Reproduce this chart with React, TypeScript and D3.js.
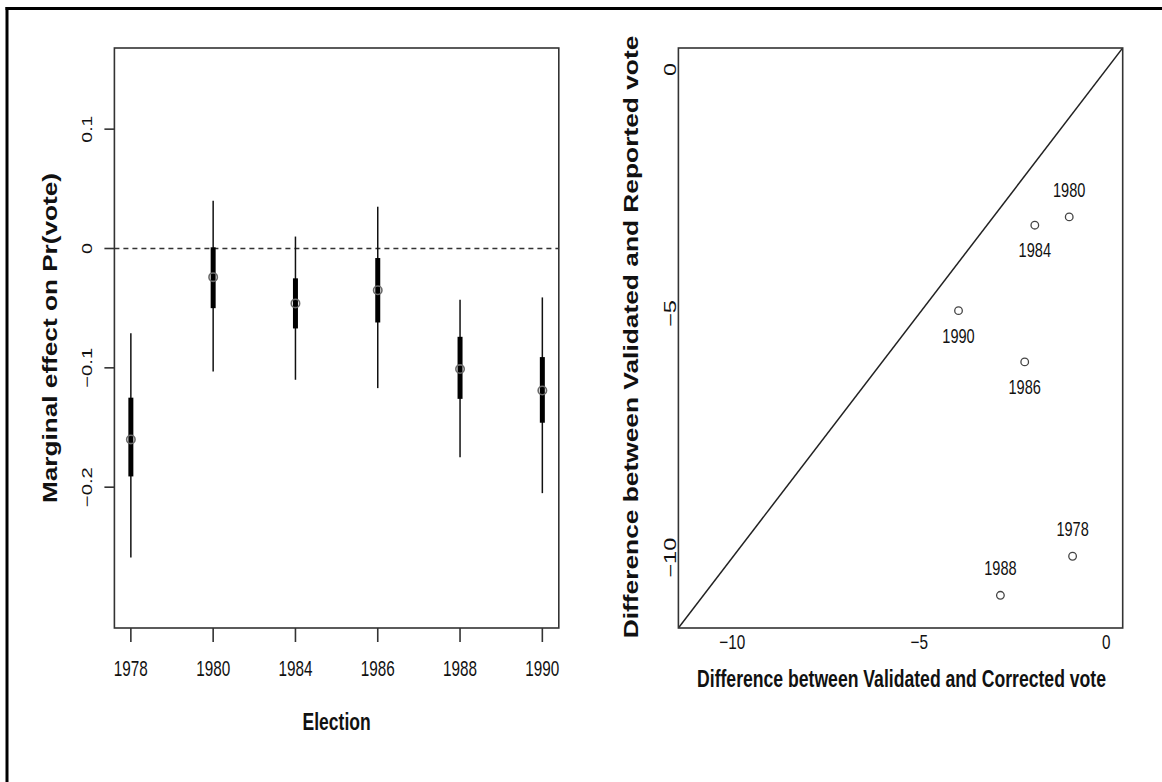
import React, { useLayoutEffect, useRef, useState } from "react";
import * as d3 from "d3";

// Left panel: marginal effect of the treatment on Pr(vote), by election
const elections = ["1978", "1980", "1984", "1986", "1988", "1990"];
const estimate = [-0.16, -0.024, -0.046, -0.035, -0.101, -0.119];
const innerLow = [-0.191, -0.05, -0.067, -0.062, -0.126, -0.146];
const innerHigh = [-0.125, 0.001, -0.025, -0.008, -0.074, -0.091];
const outerLow = [-0.259, -0.103, -0.11, -0.117, -0.175, -0.205];
const outerHigh = [-0.071, 0.04, 0.01, 0.035, -0.043, -0.041];
const effectTicks = [0.1, 0, -0.1, -0.2];
const effectLimits = [-0.3, 0.15];

// Right panel: validated vs corrected and reported turnout differences
const pointYears = ["1978", "1980", "1984", "1986", "1988", "1990"];
const correctedDiff = [-0.9, -0.99, -1.91, -2.18, -2.83, -3.95];
const reportedDiff = [-9.97, -3.02, -3.19, -5.99, -10.77, -4.94];
const diffTicks = [-10, -5, 0];
const diffLimits = [-11, 0];

const W = 1162;
const H = 782;
const FONT = "'Liberation Sans', Arial, Helvetica, sans-serif";
const INK = "#111";
const FRAME = "#333";

// R-style 4% axis extension
const extend = ([a, b]: number[]) => {
  const d = (b - a) * 0.04;
  return [a - d, b + d];
};

const fmt = (v: number) => (v < 0 ? "\u2212" : "") + String(Math.abs(v));

// approximate rendered widths of the condensed tick label glyphs
const widthOf = (s: string, digit: number, minus: number, dot: number) =>
  Array.from(s).reduce(
    (acc, ch) => acc + (ch === "\u2212" ? minus : ch === "." ? dot : digit),
    0
  );

// Text squeezed along its reading direction to a target length
function FitText(props: {
  x: number;
  y: number;
  size: number;
  len: number;
  bold?: boolean;
  vertical?: boolean;
  children: string;
}) {
  const { x, y, size, len, bold, vertical, children } = props;
  const ref = useRef<SVGTextElement>(null);
  const [k, setK] = useState(len / (children.length * size * 0.55));
  useLayoutEffect(() => {
    if (ref.current) {
      const natural = ref.current.getComputedTextLength();
      if (natural > 0) setK(len / natural);
    }
  }, [len, size, children]);
  const rot = vertical ? " rotate(-90)" : "";
  return (
    <g transform={`translate(${x},${y})${rot} scale(${k},1)`}>
      <text
        ref={ref}
        x={0}
        y={0}
        fontSize={size}
        fontFamily={FONT}
        fontWeight={bold ? "bold" : "normal"}
        textAnchor="middle"
        fill={INK}
      >
        {children}
      </text>
    </g>
  );
}

function EffectPanel() {
  const left = 114.4;
  const right = 558.8;
  const top = 48;
  const bottom = 628;
  const x = d3
    .scaleLinear()
    .domain(extend([1, elections.length]))
    .range([left, right]);
  const y = d3.scaleLinear().domain(extend(effectLimits)).range([bottom, top]);
  const cx = (i: number) => x(i + 1);

  return (
    <g>
      {/* reference line at zero */}
      <line
        x1={left}
        x2={right}
        y1={y(0)}
        y2={y(0)}
        stroke="#333"
        strokeWidth={1.6}
        strokeDasharray="5,4"
      />
      {elections.map((e, i) => (
        <g key={e}>
          <line
            x1={cx(i)}
            x2={cx(i)}
            y1={y(outerLow[i])}
            y2={y(outerHigh[i])}
            stroke="#111"
            strokeWidth={1.5}
          />
          <line
            x1={cx(i)}
            x2={cx(i)}
            y1={y(innerLow[i])}
            y2={y(innerHigh[i])}
            stroke="#000"
            strokeWidth={5}
          />
          <circle
            cx={cx(i)}
            cy={y(estimate[i])}
            r={4.2}
            fill="none"
            stroke="#6a6a6a"
            strokeWidth={1.6}
          />
        </g>
      ))}
      <rect
        x={left}
        y={top}
        width={right - left}
        height={bottom - top}
        fill="none"
        stroke={FRAME}
        strokeWidth={1.6}
      />
      {/* x axis */}
      {elections.map((e, i) => (
        <g key={"xt" + e}>
          <line
            x1={cx(i)}
            x2={cx(i)}
            y1={bottom}
            y2={bottom + 14}
            stroke={FRAME}
            strokeWidth={1.6}
          />
          <FitText x={cx(i)} y={676} size={22} len={widthOf(e, 8.5, 9, 4)}>
            {e}
          </FitText>
        </g>
      ))}
      {/* y axis */}
      {effectTicks.map((t) => (
        <g key={"yt" + t}>
          <line
            x1={left - 10}
            x2={left}
            y1={y(t)}
            y2={y(t)}
            stroke={FRAME}
            strokeWidth={1.6}
          />
          <FitText
            vertical
            x={92}
            y={y(t)}
            size={15}
            len={widthOf(fmt(t), 11, 13, 5)}
          >
            {fmt(t)}
          </FitText>
        </g>
      ))}
      <FitText x={(left + right) / 2} y={730} size={23} len={68} bold>
        Election
      </FitText>
      <FitText vertical x={57} y={338} size={19.5} len={330} bold>
        Marginal effect on Pr(vote)
      </FitText>
    </g>
  );
}

function ScatterPanel() {
  const left = 678.4;
  const right = 1122.7;
  const top = 48;
  const bottom = 628;
  const lim = extend(diffLimits);
  const x = d3.scaleLinear().domain(lim).range([left, right]);
  const y = d3.scaleLinear().domain(lim).range([bottom, top]);
  const above = new Set(["1978", "1980", "1988"]);

  return (
    <g>
      <defs>
        <clipPath id="scatter-clip">
          <rect x={left} y={top} width={right - left} height={bottom - top} />
        </clipPath>
      </defs>
      {/* identity line */}
      <line
        x1={x(lim[0])}
        y1={y(lim[0])}
        x2={x(lim[1])}
        y2={y(lim[1])}
        stroke="#222"
        strokeWidth={1.5}
        clipPath="url(#scatter-clip)"
      />
      {pointYears.map((yr, i) => {
        const px = x(correctedDiff[i]);
        const py = y(reportedDiff[i]);
        return (
          <g key={yr}>
            <circle
              cx={px}
              cy={py}
              r={3.8}
              fill="none"
              stroke="#444"
              strokeWidth={1.3}
            />
            <FitText
              x={px}
              y={above.has(yr) ? py - 20 : py + 32}
              size={20}
              len={widthOf(yr, 8.1, 9, 4)}
            >
              {yr}
            </FitText>
          </g>
        );
      })}
      <rect
        x={left}
        y={top}
        width={right - left}
        height={bottom - top}
        fill="none"
        stroke={FRAME}
        strokeWidth={1.6}
      />
      {diffTicks.map((t) => (
        <FitText
          key={"xt" + t}
          x={x(t)}
          y={649}
          size={20}
          len={widthOf(fmt(t), 8.5, 9, 4)}
        >
          {fmt(t)}
        </FitText>
      ))}
      {diffTicks.map((t) => (
        <FitText
          key={"yt" + t}
          vertical
          x={676}
          y={y(t)}
          size={16}
          len={widthOf(fmt(t), 13, 14, 5)}
        >
          {fmt(t)}
        </FitText>
      ))}
      <FitText x={901.5} y={687} size={23.5} len={409} bold>
        Difference between Validated and Corrected vote
      </FitText>
      <FitText vertical x={638} y={337} size={19.5} len={603} bold>
        Difference between Validated and Reported vote
      </FitText>
    </g>
  );
}

export default function App() {
  return (
    <svg
      width={W}
      height={H}
      viewBox={`0 0 ${W} ${H}`}
      style={{ position: "absolute", left: 0, top: 0, background: "#fff" }}
    >
      <rect x={0} y={0} width={W} height={H} fill="#fff" />
      {/* figure frame along the top and left edges */}
      <line x1={5.5} x2={W} y1={8.5} y2={8.5} stroke="#000" strokeWidth={3} />
      <line x1={7} x2={7} y1={7} y2={H} stroke="#000" strokeWidth={3} />
      <EffectPanel />
      <ScatterPanel />
    </svg>
  );
}
